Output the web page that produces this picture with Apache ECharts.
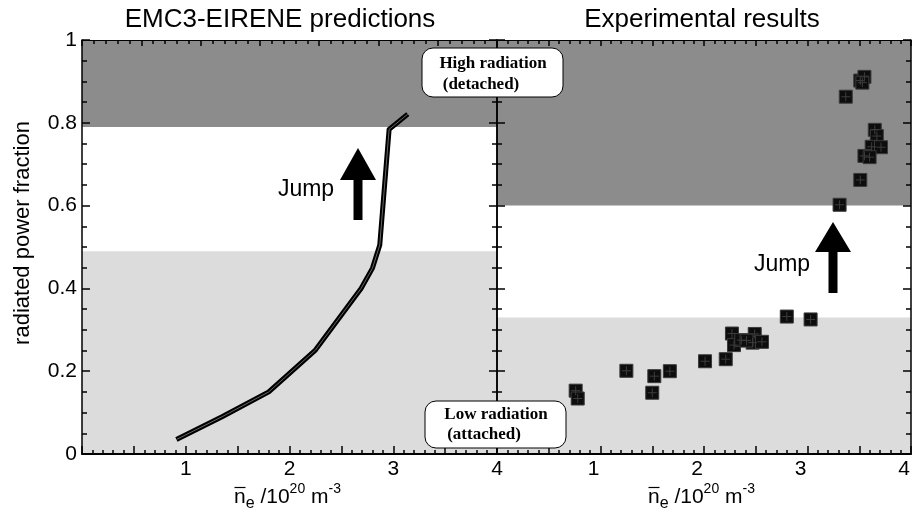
<!DOCTYPE html>
<html>
<head>
<meta charset="utf-8">
<script src="https://cdn.jsdelivr.net/npm/echarts@6/dist/echarts.min.js"></script>
<style>html,body{margin:0;padding:0;background:#fff}#c{width:914px;height:526px}</style>
</head>
<body>
<div id="c"></div>
<script>
// ---- data ----
const simDensity  = [0.91, 1.35, 1.80, 2.25, 2.69, 2.80, 2.87, 2.96, 3.14];
const simFraction = [0.035, 0.090, 0.150, 0.251, 0.400, 0.449, 0.505, 0.784, 0.821];

const expDensity  = [0.76, 0.78, 1.25, 1.52, 1.50, 1.67, 2.01, 2.21, 2.27, 2.29, 2.36, 2.49, 2.47, 2.56, 2.41, 2.80, 3.03,
                     3.31, 3.51, 3.37, 3.51, 3.55, 3.53, 3.65, 3.67, 3.62, 3.71, 3.55, 3.60];
const expFraction = [0.153, 0.134, 0.201, 0.188, 0.148, 0.200, 0.224, 0.229, 0.291, 0.263, 0.275, 0.290, 0.269, 0.271, 0.274, 0.332, 0.325,
                     0.602, 0.662, 0.863, 0.902, 0.911, 0.897, 0.783, 0.768, 0.742, 0.741, 0.720, 0.717];

const simBands = [0.49, 0.79];   // [top of low-radiation band, bottom of high-radiation band]
const expBands = [0.33, 0.60];
const xTicks = [1, 2, 3, 4];
const panelTitles = ['EMC3-EIRENE predictions', 'Experimental results'];
const yName = 'radiated power fraction';
const boxHigh = ['High radiation', '(detached)'];
const boxLow = ['Low radiation', '(attached)'];

const FONT = 'Liberation Sans, Arial, Helvetica, sans-serif';
const SERIF = 'Liberation Serif, Times New Roman, serif';

const chart = echarts.init(document.getElementById('c'));

function tickStyle() { return {color: '#000', width: 1.5}; }

function xMain(grid, shift) {
  return {
    gridIndex: grid, type: 'value', min: 0, max: 4, interval: 0.5, position: 'bottom', z: 10,
    axisLine: {show: true, onZero: false, lineStyle: {color: '#000', width: 2}},
    axisTick: {show: true, inside: true, length: 8, lineStyle: tickStyle()},
    minorTick: {show: true, splitNumber: 5, length: 4, lineStyle: tickStyle()},
    splitLine: {show: false}, minorSplitLine: {show: false},
    axisLabel: {show: true, margin: 5, color: '#000', fontSize: 21, fontFamily: FONT,
      padding: [0, shift, 0, 0], hideOverlap: false,
      formatter: v => (xTicks.indexOf(v) >= 0 ? String(v) : '')}
  };
}
function xTop(grid, max) {
  return {
    gridIndex: grid, type: 'value', min: 0, max: max, interval: 1, position: 'top', z: 10,
    axisLine: {show: true, onZero: false, lineStyle: {color: '#000', width: 1}},
    axisTick: {show: true, inside: true, length: 6, lineStyle: tickStyle()},
    minorTick: {show: true, splitNumber: 5, length: 4, lineStyle: tickStyle()},
    axisLabel: {show: false}, splitLine: {show: false}
  };
}
function yAx(grid, pos, labels) {
  return {
    gridIndex: grid, type: 'value', min: 0, max: 1, interval: 0.2, position: pos, z: 10,
    axisLine: {show: true, onZero: false, lineStyle: {color: '#000', width: 1.5}},
    axisTick: {show: true, inside: true, length: 8, lineStyle: tickStyle()},
    minorTick: {show: true, splitNumber: 4, length: 5, lineStyle: tickStyle()},
    splitLine: {show: false},
    axisLabel: {show: labels, margin: 5, color: '#000', fontSize: 21, fontFamily: FONT,
      formatter: v => String(Math.round(v * 10) / 10)}
  };
}
function bands(b) {
  return {
    silent: true, label: {show: false},
    data: [
      [{xAxis: 0, yAxis: 0, itemStyle: {color: '#dcdcdc'}}, {xAxis: 4, yAxis: b[0]}],
      [{xAxis: 0, yAxis: b[1], itemStyle: {color: '#8c8c8c'}}, {xAxis: 4, yAxis: 1}]
    ]
  };
}

const simData = simDensity.map((x, i) => [x, simFraction[i]]);
const expData = expDensity.map((x, i) => [x, expFraction[i]]);

function arrow(cx, tip, base, bottom) {
  return {
    type: 'polygon', z: 50,
    shape: {points: [[cx, tip], [cx + 18, base], [cx + 4.5, base], [cx + 4.5, bottom],
                     [cx - 4.5, bottom], [cx - 4.5, base], [cx - 18, base]]},
    style: {fill: '#000'}
  };
}
function txt(x, y, s, size, family, extra) {
  return Object.assign({type: 'text', x: x, y: y, z: 60,
    style: Object.assign({text: s, fill: '#000', fontSize: size, fontFamily: family,
      align: 'center', verticalAlign: 'middle'}, extra && extra.style)}, extra && extra.el);
}
function box(x, y, w, h) {
  return {type: 'rect', z: 55, shape: {x: x, y: y, width: w, height: h, r: 11},
    style: {fill: '#fff', stroke: '#000', lineWidth: 1}};
}
function xName(x0) {
  return [
    {type: 'text', x: x0, y: 497, z: 60,
      style: {text: '{b|n}{s|e}{b| /10}{p|20}{b| m}{p|-3}', fontFamily: FONT, fill: '#000',
        align: 'left', verticalAlign: 'middle',
        rich: {
          b: {fontSize: 21, fontFamily: FONT, lineHeight: 30, verticalAlign: 'middle', fill: '#000'},
          s: {fontSize: 16, fontFamily: FONT, lineHeight: 14, verticalAlign: 'bottom', fill: '#000'},
          p: {fontSize: 14, fontFamily: FONT, lineHeight: 14, verticalAlign: 'top', fill: '#000'}
        }}},
    {type: 'line', z: 60, shape: {x1: x0 + 0.5, y1: 487.5, x2: x0 + 11.5, y2: 487.5},
      style: {stroke: '#000', lineWidth: 1.2}}
  ];
}

const option = {
  animation: false,
  backgroundColor: '#fff',
  grid: [
    {left: 82, top: 40, width: 415, height: 414, containLabel: false},
    {left: 497, top: 40, width: 414, height: 414, containLabel: false}
  ],
  xAxis: [xMain(0, 0), xTop(0, 7), xMain(1, 14), xTop(1, 8)],
  yAxis: [yAx(0, 'left', true), yAx(0, 'right', false), yAx(1, 'left', false), yAx(1, 'right', false)],
  series: [
    {type: 'line', xAxisIndex: 0, yAxisIndex: 0, data: simData, symbol: 'none', z: 3,
      lineStyle: {color: '#000', width: 5, join: 'round'}, markArea: bands(simBands)},
    {type: 'line', xAxisIndex: 0, yAxisIndex: 0, data: simData, symbol: 'none', z: 4,
      lineStyle: {color: '#666', width: 1}},
    {type: 'scatter', xAxisIndex: 2, yAxisIndex: 2, data: expData, symbol: 'rect', symbolSize: 13, z: 3,
      itemStyle: {color: '#0d0d0d', borderColor: '#3a3a3a', borderWidth: 1, opacity: 1},
      markArea: bands(expBands)},
    {type: 'scatter', xAxisIndex: 2, yAxisIndex: 2, data: expData, z: 4,
      symbol: 'path://M0 5 L10 5 M5 0 L5 10', symbolSize: 9,
      itemStyle: {color: 'none', borderColor: '#3c3c3c', borderWidth: 1, opacity: 1}}
  ],
  graphic: [
    txt(280, 20, panelTitles[0], 26, FONT),
    txt(702, 20, panelTitles[1], 26, FONT),
    txt(23, 233, yName, 22, FONT, {el: {rotation: Math.PI / 2}}),
    ...xName(234),
    ...xName(648),
    txt(306, 190, 'Jump', 23, FONT),
    txt(782, 265, 'Jump', 23, FONT),
    arrow(358, 148, 180, 220),
    arrow(833, 222, 252, 293),
    box(422, 48, 141, 49),
    txt(493, 64, boxHigh[0], 17, SERIF, {style: {fontWeight: 'bold'}}),
    txt(481, 85, boxHigh[1], 17, SERIF, {style: {fontWeight: 'bold'}}),
    box(425, 401, 141, 47),
    txt(496, 415, boxLow[0], 17, SERIF, {style: {fontWeight: 'bold'}}),
    txt(484, 435, boxLow[1], 17, SERIF, {style: {fontWeight: 'bold'}})
  ]
};
chart.setOption(option);
</script>
</body>
</html>
